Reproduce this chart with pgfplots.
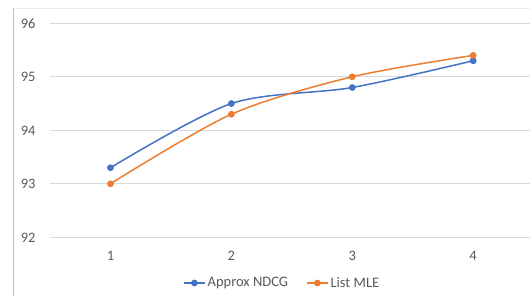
\documentclass[border=0pt]{standalone}
\usepackage{fontspec}
\setmainfont{Carlito}
\usepackage{pgfplots}
\pgfplotsset{compat=1.18}
\definecolor{cblue}{HTML}{4472C4}
\definecolor{corange}{HTML}{ED7D31}
\definecolor{ctext}{HTML}{595959}
\definecolor{cgrid}{HTML}{D9D9D9}
\begin{document}
\begin{tikzpicture}
\begin{axis}[
  name=ax,
  scale only axis, width=483.6bp, height=214bp,
  xmin=0.5, xmax=4.5, ymin=92, ymax=96,
  xtick={1,2,3,4}, ytick={92,93,94,95,96},
  axis line style={draw=none},
  axis x line*=bottom,
  ymajorgrids, grid style={cgrid, line width=1bp},
  major tick length=0pt,
  tick label style={font=\fontsize{14.5bp}{17bp}\selectfont, text=ctext},
  /pgf/number format/assume math mode=true,
  yticklabel style={xshift=-11bp},
  xticklabel style={yshift=-10bp},
  clip=false,
  legend columns=2,
  legend style={at={(axis description cs:0.275,-0.2136)}, anchor=west, draw=none, fill=none,
    font=\fontsize{14.5bp}{17bp}\selectfont, text=ctext,
    /tikz/every even column/.append style={column sep=16bp}, inner sep=0pt},
  legend cell align=left,
  legend image code/.code={\draw[mark repeat=2,mark phase=2,#1] plot coordinates {(0bp,0bp) (10.5bp,0bp) (21bp,0bp)};},
]
\addplot[cblue, line width=1.5bp, smooth, tension=0.5, mark=*, mark size=2.6bp, mark options={fill=cblue, draw=cblue}]
  coordinates {(1,93.3) (2,94.5) (3,94.8) (4,95.3)};
\addlegendentry{Approx NDCG}
\addplot[corange, line width=1.5bp, smooth, tension=0.5, mark=*, mark size=2.6bp, mark options={fill=corange, draw=corange}]
  coordinates {(1,93.0) (2,94.3) (3,95.0) (4,95.4)};
\addlegendentry{List MLE}
\end{axis}
\coordinate (O) at ([xshift=-50bp,yshift=-58.7bp]ax.south west);
\draw[color=black!8, line width=0.8bp] ([xshift=13bp,yshift=288bp]O) -- ([xshift=530bp,yshift=288bp]O);
\draw[color=black!25, line width=0.8bp] ([xshift=13bp]O) -- ([xshift=13bp,yshift=288bp]O);
\pgfresetboundingbox
\useasboundingbox (O) rectangle ([xshift=530bp,yshift=296bp]O);
\end{tikzpicture}
\end{document}
